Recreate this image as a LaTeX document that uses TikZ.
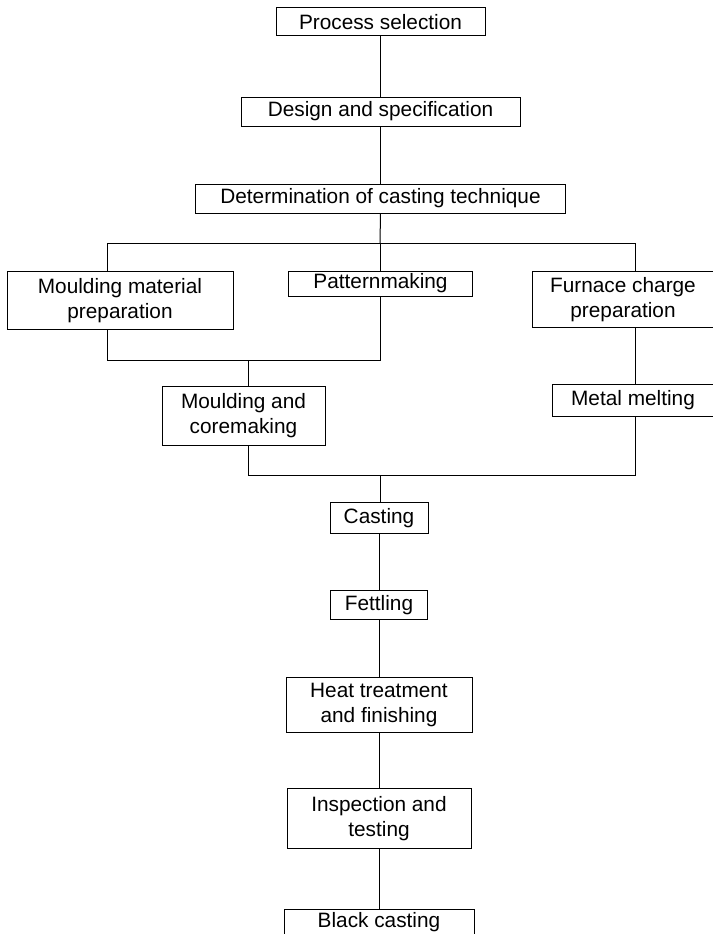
\documentclass[tikz,border=0pt]{standalone}
\usepackage{fontspec}
\setmainfont{Liberation Sans}
\usetikzlibrary{positioning}

\begin{document}
\begin{tikzpicture}[
  x=1pt, y=-1pt,
  stage/.style={rectangle, draw, line width=1pt, inner sep=2pt, minimum height=29pt, align=center, font=\fontsize{20.8}{25}\selectfont},
  stagetwo/.style={stage, minimum height=57pt},
  link/.style={line width=1pt},
  node distance=57pt
]
\useasboundingbox (0,0) rectangle (712,934);

% main column, top
\node[stage, minimum width=209pt, minimum height=28pt] (psel) at (380.5,22) {Process selection};
\node[stage, minimum width=279pt, below=60pt of psel] (design) {Design and specification};
\node[stage, minimum width=370pt, below=of design] (tech) {Determination of casting technique};

% parallel branches
\node[stage, minimum width=184pt, minimum height=25pt, below=of tech] (pattern) {Patternmaking};
\node[stagetwo, minimum width=226pt, minimum height=58pt, anchor=north] (mmat) at (120,271) {Moulding material\\preparation};
\node[stagetwo, minimum width=182pt, minimum height=56pt, anchor=north] (fcharge) at (623,271) {Furnace charge\\preparation};
\node[stagetwo, minimum width=163pt, minimum height=59pt, anchor=north] (mcore) at (243.5,386) {Moulding and\\coremaking};
\node[stage, minimum width=162pt, minimum height=32pt, anchor=north] (melt) at (633,384) {Metal melting};

% main column, bottom
\node[stage, minimum width=98pt, minimum height=31pt, anchor=north] (cast) at (379,502) {Casting};
\node[stage, minimum width=97pt, below=56pt of cast] (fettle) {Fettling};
\node[stagetwo, minimum width=186pt, minimum height=55pt, below=of fettle] (heat) {Heat treatment\\and finishing};
\node[stagetwo, minimum width=184pt, minimum height=60pt, below=55pt of heat] (inspect) {Inspection and\\testing};
\node[stage, minimum width=190pt, minimum height=26pt, below=60pt of inspect] (black) {Black casting};

% junction points
\coordinate (bar) at (380,243);
\coordinate (lbranch) at (107,243);
\coordinate (rbranch) at (635,243);
\coordinate (mjoin) at (248,360);
\coordinate (cjoin) at (380,475);

\draw[link] (psel) -- (design);
\draw[link] (design) -- (tech);
\draw[link] (tech.south) -- (bar);
\draw[link] (lbranch |- mmat.north) -- (lbranch) -- (rbranch) -- (rbranch |- fcharge.north);
\draw[link] (bar) -- (bar |- pattern.north);
\draw[link] (lbranch |- mmat.south) |- (bar |- mjoin) -- (bar |- pattern.south);
\draw[link] (mjoin) -- (mjoin |- mcore.north);
\draw[link] (rbranch |- fcharge.south) -- (rbranch |- melt.north);
\draw[link] (mjoin |- mcore.south) |- (rbranch |- cjoin) -- (rbranch |- melt.south);
\draw[link] (cjoin) -- (cjoin |- cast.north);

\foreach \a/\b in {cast/fettle, fettle/heat, heat/inspect, inspect/black}
  \draw[link] (\a) -- (\b);

\end{tikzpicture}
\end{document}
